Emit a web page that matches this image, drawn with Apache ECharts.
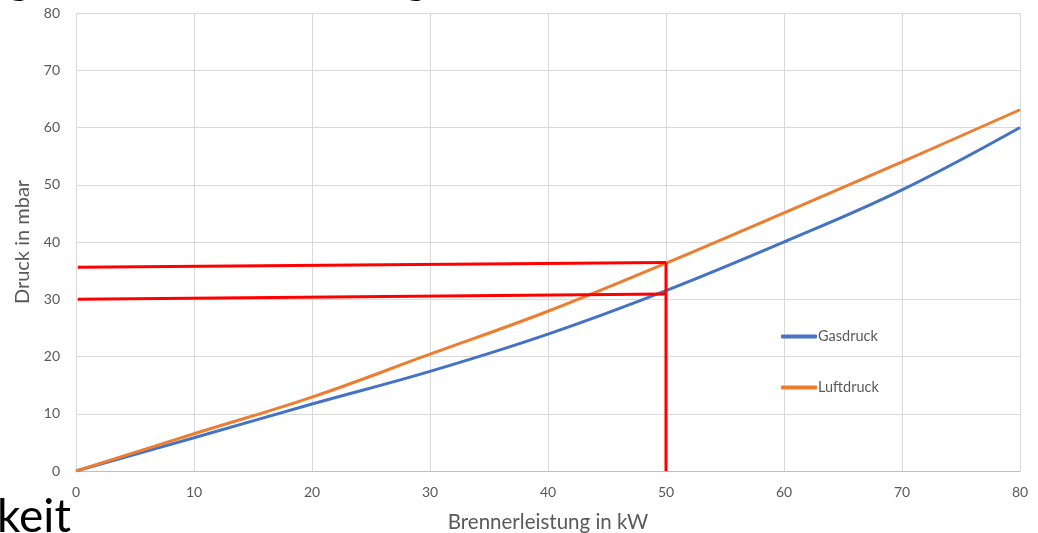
<!DOCTYPE html>
<html>
<head>
<meta charset="utf-8">
<script src="https://cdn.jsdelivr.net/npm/echarts@6/dist/echarts.min.js"></script>
<style>
html,body{margin:0;padding:0;background:#fff;}
#c{width:1038px;height:533px;}
</style>
</head>
<body>
<div id="c"></div>
<script>
// Data
const xValues = [0, 10, 20, 30, 40, 50, 60, 70, 80];
const gasdruck = [0, 5.8, 11.7, 17.4, 23.9, 31.5, 40.0, 49.1, 60.0];
const luftdruck = [0, 6.5, 12.9, 20.4, 27.9, 36.3, 45.1, 54.0, 63.1];
const redLineUpper = [[0.15, 35.6], [50, 36.4]];
const redLineLower = [[0.15, 30.0], [50, 30.9]];
const redLineVertical = [[50, 36.4], [50, 0]];
const seriesNames = ['Gasdruck', 'Luftdruck'];
const xAxisName = 'Brennerleistung in kW';
const yAxisName = 'Druck in mbar';

const pair = (xs, ys) => xs.map((x, i) => [x, ys[i]]);
const labelColor = '#595959';
const font = 'Lato, "Open Sans", sans-serif';

const chart = echarts.init(document.getElementById('c'), null, {renderer: 'canvas'});
chart.setOption({
  animation: false,
  backgroundColor: '#fff',
  grid: {left: 76, right: 18, top: 13, bottom: 62, containLabel: false, outerBoundsMode: 'none'},
  xAxis: {
    type: 'value', min: 0, max: 80, interval: 10,
    name: xAxisName, nameLocation: 'middle', nameGap: 41,
    nameTextStyle: {color: labelColor, fontSize: 20.5, fontFamily: font},
    axisLine: {show: true, lineStyle: {color: '#bfbfbf', width: 1}},
    axisTick: {show: false},
    axisLabel: {color: labelColor, fontSize: 14, fontFamily: font, margin: 14},
    splitLine: {show: true, lineStyle: {color: '#d9d9d9', width: 1}}
  },
  yAxis: {
    type: 'value', min: 0, max: 80, interval: 10,
    name: yAxisName, nameLocation: 'middle', nameGap: 41,
    nameTextStyle: {color: labelColor, fontSize: 20, fontFamily: font},
    axisLine: {show: false},
    axisTick: {show: false},
    axisLabel: {color: labelColor, fontSize: 14, fontFamily: font, margin: 16},
    splitLine: {show: true, lineStyle: {color: '#d9d9d9', width: 1}}
  },
  legend: {
    orient: 'vertical', left: 776, top: 324,
    data: seriesNames,
    icon: 'roundRect', itemWidth: 36, itemHeight: 4, itemGap: 36,
    textStyle: {color: labelColor, fontSize: 14.5, fontFamily: font, padding: [0, 0, 0, -4]}
  },
  graphic: [
    {type: 'text', left: -3, top: 494, silent: true,
     style: {text: 'keit', fontSize: 46, fontFamily: font, fill: '#000'}},
    {type: 'text', x: 8, y: -41, silent: true,
     style: {text: 'g', fontSize: 42, fontFamily: font, fill: '#000'}},
    {type: 'text', x: 405, y: -41, silent: true,
     style: {text: 'g', fontSize: 42, fontFamily: font, fill: '#000'}}
  ],
  series: [
    {name: seriesNames[0], type: 'line', data: pair(xValues, gasdruck), smooth: 0.4,
     showSymbol: false, lineStyle: {color: '#4472C4', width: 3}, itemStyle: {color: '#4472C4'}, z: 3},
    {name: seriesNames[1], type: 'line', data: pair(xValues, luftdruck), smooth: 0.4,
     showSymbol: false, lineStyle: {color: '#ED7D31', width: 3}, itemStyle: {color: '#ED7D31'}, z: 3},
    {type: 'line', data: redLineUpper, showSymbol: false, lineStyle: {color: '#FF0000', width: 3}, z: 4},
    {type: 'line', data: redLineLower, showSymbol: false, lineStyle: {color: '#FF0000', width: 3}, z: 4},
    {type: 'line', data: redLineVertical, showSymbol: false, lineStyle: {color: '#FF0000', width: 3}, z: 4}
  ]
});
</script>
</body>
</html>
